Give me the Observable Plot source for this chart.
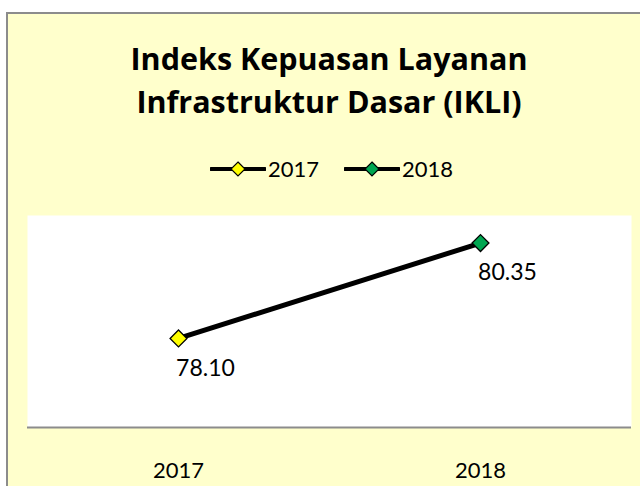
<!DOCTYPE html>
<html>
<head>
<meta charset="utf-8">
<script src="https://cdn.jsdelivr.net/npm/d3@7"></script>
<script src="https://cdn.jsdelivr.net/npm/@observablehq/plot@0.6"></script>
<style>
  html, body { margin: 0; padding: 0; background: #ffffff; }
  #wrap { position: relative; width: 640px; height: 486px; overflow: hidden; font-family: Lato, "Open Sans", sans-serif; }
  #box { position: absolute; left: 6px; top: 12px; width: 660px; height: 500px; background: #FFFFCC; border: 2px solid #8c8c8c; box-sizing: border-box; }
  #chart { position: absolute; left: 0; top: 0; }
  .title { position: absolute; left: 0; width: 658px; text-align: center; font-family: "Open Sans", sans-serif; font-weight: bold; font-size: 30.5px; color: #000; white-space: nowrap; line-height: 1; }
  #legend { position: absolute; left: 0; top: 0; }
  .lg { position: absolute; font-size: 22px; color: #000; }
</style>
</head>
<body>
<div id="wrap">
  <div id="box"></div>
  <div id="chart"></div>
  <div class="title" id="t1" style="top:43px;"></div>
  <div class="title" id="t2" style="top:86px;"></div>
  <div id="legend"></div>
</div>
<script>
const titleLines = ["Indeks Kepuasan Layanan", "Infrastruktur Dasar (IKLI)"];
const years = ["2017", "2018"];
const values = [78.10, 80.35];
const labels = ["78.10", "80.35"];
const colors = ["#FFFF00", "#00A651"];
const yDomain = [76, 81];

document.getElementById("t1").textContent = titleLines[0];
document.getElementById("t2").textContent = titleLines[1];

const data = years.map((y, i) => ({year: y, value: values[i], label: labels[i], color: colors[i]}));

const chart = Plot.plot({
  width: 640,
  height: 486,
  marginTop: 215,
  marginBottom: 59,
  marginLeft: 27,
  marginRight: 9,
  style: {background: "transparent", fontFamily: "Lato, 'Open Sans', sans-serif"},
  x: {type: "band", domain: years, padding: 0},
  y: {domain: yDomain, axis: null},
  marks: [
    Plot.frame({fill: "white", stroke: null}),
    Plot.ruleY([yDomain[0]], {stroke: "#8c8c8c", strokeWidth: 2}),
    Plot.axisX({tickSize: 0, tickPadding: 35, fontSize: 22, fill: "#000", label: null}),
    Plot.line(data, {x: "year", y: "value", stroke: "#000", strokeWidth: 5}),
    Plot.dot(data, {x: "year", y: "value", symbol: "diamond2", r: 7.6, fill: d => d.color, stroke: "#000", strokeWidth: 1.3}),
    Plot.text(data, {x: "year", y: "value", text: "label", dx: 27, dy: 30, fontSize: 23, fill: "#000"})
  ]
});
document.getElementById("chart").appendChild(chart);

// Legend
const legend = document.getElementById("legend");
const legendX = [210, 344];
years.forEach((y, i) => {
  const x0 = legendX[i];
  const ns = "http://www.w3.org/2000/svg";
  const svg = document.createElementNS(ns, "svg");
  svg.setAttribute("width", 56);
  svg.setAttribute("height", 20);
  svg.style.position = "absolute";
  svg.style.left = x0 + "px";
  svg.style.top = "159px";
  const ln = document.createElementNS(ns, "line");
  ln.setAttribute("x1", 1); ln.setAttribute("x2", 55);
  ln.setAttribute("y1", 10); ln.setAttribute("y2", 10);
  ln.setAttribute("stroke", "#000"); ln.setAttribute("stroke-width", 4);
  ln.setAttribute("stroke-linecap", "round");
  svg.appendChild(ln);
  const p = document.createElementNS(ns, "polygon");
  p.setAttribute("points", "28,3 35,10 28,17 21,10");
  p.setAttribute("fill", colors[i]); p.setAttribute("stroke", "#000"); p.setAttribute("stroke-width", 1.2);
  svg.appendChild(p);
  legend.appendChild(svg);
  const t = document.createElement("div");
  t.className = "lg";
  t.textContent = y;
  t.style.left = (x0 + 58) + "px";
  t.style.top = "155px";
  legend.appendChild(t);
});
</script>
</body>
</html>
